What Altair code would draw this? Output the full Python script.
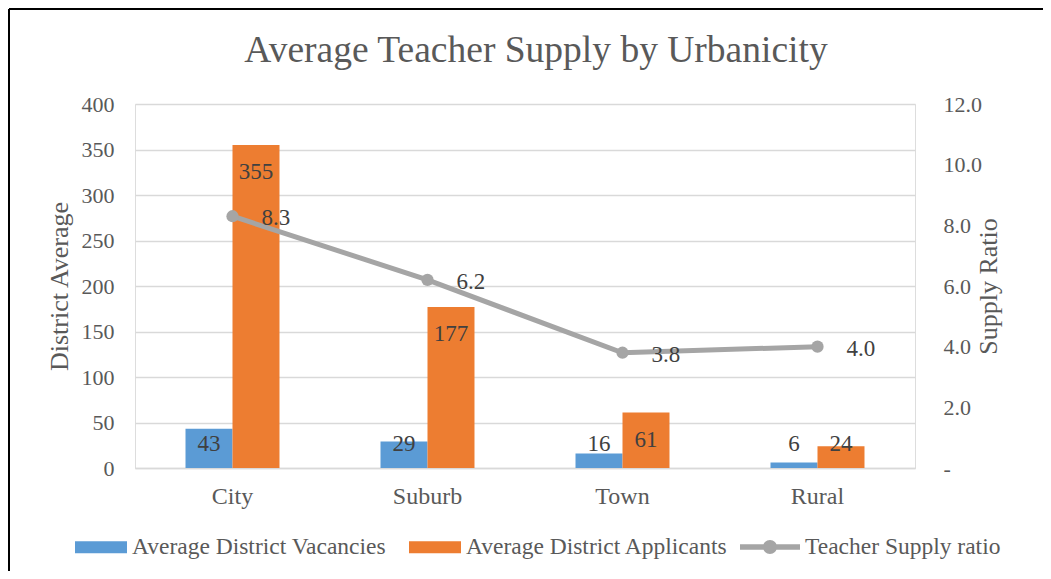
import altair as alt
import pandas as pd

categories = ["City", "Suburb", "Town", "Rural"]
vacancies = [43, 29, 16, 6]
applicants = [355, 177, 61, 24]
supply_ratio = [8.3, 6.2, 3.8, 4.0]
bar_series = ["Average District Vacancies", "Average District Applicants"]
line_series = "Teacher Supply ratio"

bars_df = pd.DataFrame({
    "category": categories * 2,
    "series": [bar_series[0]] * 4 + [bar_series[1]] * 4,
    "value": vacancies + applicants,
})
line_df = pd.DataFrame({
    "category": categories,
    "ratio": supply_ratio,
    "series": [line_series] * 4,
})

FONT = "Liberation Serif"
AX = "#595959"
GRID = "#D9D9D9"
W, H = 780, 364
PL, PT, PR, PB = 127, 96, 128, 103

RECT = "M-1,-0.23H1V0.23H-1Z"
LINESYM = ("M-1,-0.09H1V0.09H-1Z "
           "M-0.233,0A0.233,0.233 0 1,1 0.233,0A0.233,0.233 0 1,1 -0.233,0Z")

x_enc = alt.X(
    "category:N", sort=categories,
    scale=alt.Scale(paddingInner=0.518, paddingOuter=0.259),
    axis=alt.Axis(title=None, labelFont=FONT, labelFontSize=24, labelColor=AX,
                  ticks=False, domainColor=GRID, domainWidth=1.5,
                  labelPadding=16, labelAngle=0, grid=False),
)

y_left = alt.Y(
    "value:Q",
    scale=alt.Scale(domain=[0, 400]),
    axis=alt.Axis(title="District Average", titleFont=FONT, titleFontSize=26,
                  titleColor=AX, titleFontWeight="normal", titlePadding=9,
                  labelFont=FONT, labelFontSize=22, labelColor=AX,
                  values=list(range(0, 401, 50)), ticks=False, domain=False,
                  grid=True, gridColor=GRID, gridWidth=1.5, labelPadding=21),
)

bars = alt.Chart(bars_df).mark_bar().encode(
    x=x_enc,
    xOffset=alt.XOffset("series:N", sort=bar_series),
    y=y_left,
    color=alt.Color(
        "series:N", sort=bar_series,
        scale=alt.Scale(domain=bar_series, range=["#5B9BD5", "#ED7D31"]),
        legend=alt.Legend(orient="none", legendX=-60, legendY=417,
                          direction="horizontal", title=None,
                          symbolType=RECT, symbolSize=2704, symbolStrokeWidth=0,
                          labelFont=FONT, labelFontSize=23.5, labelColor=AX,
                          labelLimit=500, labelOffset=5, columnPadding=22),
    ),
)

bar_text = alt.Chart(bars_df).transform_calculate(
    lab_pos="max(datum.value - 30, 26.5)"
).mark_text(font=FONT, fontSize=23, color="#404040", baseline="middle").encode(
    x=alt.X("category:N", sort=categories),
    xOffset=alt.XOffset("series:N", sort=bar_series),
    y=alt.Y("lab_pos:Q"),
    text=alt.Text("value:Q"),
)

border_df = pd.DataFrame({"a": [0]})
border_left = alt.Chart(border_df).mark_rule(color="#000000", strokeWidth=2).encode(
    x=alt.value(-126), y=alt.value(-95), y2=alt.value(H + PB)
)
border_top = alt.Chart(border_df).mark_rule(color="#000000", strokeWidth=2).encode(
    x=alt.value(-126), x2=alt.value(W + PR), y=alt.value(-95)
)

left = alt.layer(bars, bar_text, border_left, border_top)

y_right = alt.Y(
    "ratio:Q",
    scale=alt.Scale(domain=[0, 12]),
    axis=alt.Axis(orient="right", title="Supply Ratio", titleFont=FONT,
                  titleFontSize=26, titleColor=AX, titleFontWeight="normal",
                  titleAngle=270, titlePadding=20, labelFont=FONT,
                  labelFontSize=22, labelColor=AX,
                  values=list(range(0, 13, 2)), ticks=False,
                  domain=False, grid=False, labelPadding=28,
                  labelExpr="datum.value == 0 ? '-' : format(datum.value, '.1f')"),
)

line = alt.Chart(line_df).mark_line(color="#A5A5A5", strokeWidth=5).encode(
    x=alt.X("category:N", sort=categories), y=y_right
)
points = alt.Chart(line_df).mark_point(filled=True, size=150, opacity=1).encode(
    x=alt.X("category:N", sort=categories),
    y=alt.Y("ratio:Q"),
    color=alt.Color(
        "series:N",
        scale=alt.Scale(domain=[line_series], range=["#A5A5A5"]),
        legend=alt.Legend(orient="none", legendX=605, legendY=413,
                          title=None, symbolType=LINESYM, symbolSize=3600,
                          symbolStrokeWidth=0, labelFont=FONT,
                          labelFontSize=23.5, labelColor=AX, labelLimit=500,
                          labelOffset=5),
    ),
)
line_text = alt.Chart(line_df).mark_text(
    font=FONT, fontSize=23, color="#404040", align="left", baseline="middle",
    dx=29, dy=2
).encode(
    x=alt.X("category:N", sort=categories),
    y=alt.Y("ratio:Q"),
    text=alt.Text("ratio:Q", format=".1f"),
)

right = alt.layer(line, points, line_text)

chart = alt.layer(left, right).resolve_scale(
    y="independent", color="independent"
).properties(
    width=W, height=H,
    autosize=alt.AutoSizeParams(type="none"),
    padding={"left": PL, "top": PT, "right": PR, "bottom": PB},
    title=alt.TitleParams(
        "Average Teacher Supply by Urbanicity", font=FONT, fontSize=37.5,
        color=AX, fontWeight="normal", anchor="middle", dx=11, offset=-99,
        baseline="bottom", frame="group"
    ),
).configure_view(stroke=None).configure(background="white")

chart.save("out.html", embed_options={"renderer": "svg", "actions": False})
